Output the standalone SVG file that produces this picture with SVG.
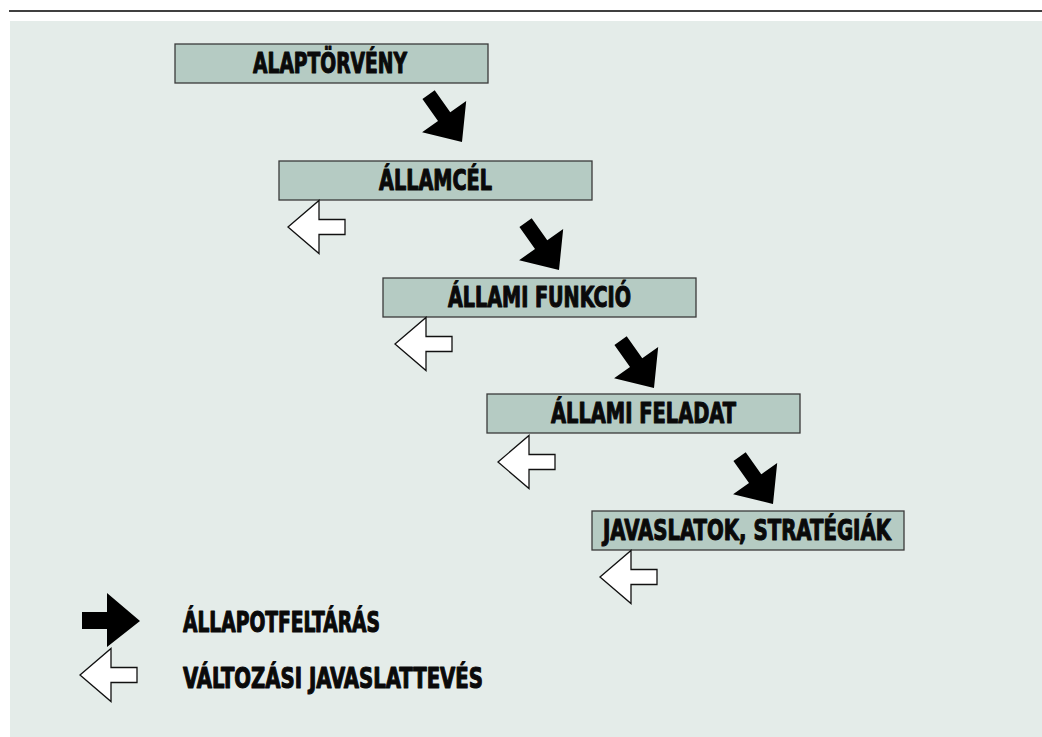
<svg xmlns="http://www.w3.org/2000/svg" xmlns:xlink="http://www.w3.org/1999/xlink" width="1042" height="737" viewBox="0 0 1042 737">
<style>
.box{fill:#b5cbc3;stroke:#3a3a3a;stroke-width:1.3}
.lbl{font-family:"Liberation Sans Narrow","DejaVu Sans Condensed","Liberation Sans",sans-serif;font-weight:bold;font-size:28px;fill:#0a0a0a;stroke:#0a0a0a;stroke-width:1.1;stroke-linejoin:round}
.blk{fill:#000}
.wht{fill:#fff;stroke:#111;stroke-width:1.3;stroke-linejoin:miter}
</style>
<defs>
<polygon id="blkArrow" points="0,0 -31,-27 -31,-7.5 -58,-7.5 -58,7.5 -31,7.5 -31,27"/>
<polygon id="whtArrow" points="0,0 31,-26.5 31,-7.5 57,-7.5 57,7.5 31,7.5 31,26.5"/>
</defs>
<rect x="0" y="0" width="1042" height="737" fill="#ffffff"/>
<line x1="9" y1="11" x2="1042" y2="11" stroke="#000" stroke-width="1.6"/>
<rect x="10" y="21" width="1032" height="716" fill="#e4ece9"/>

<g id="n1"><rect class="box" x="175" y="44" width="313" height="39"/><text class="lbl" x="330" y="73" text-anchor="middle" textLength="154" lengthAdjust="spacingAndGlyphs">ALAPTÖRVÉNY</text></g>
<g id="n2"><rect class="box" x="279" y="161" width="313" height="39"/><text class="lbl" x="435.5" y="190" text-anchor="middle" textLength="113" lengthAdjust="spacingAndGlyphs">ÁLLAMCÉL</text></g>
<g id="n3"><rect class="box" x="383" y="278" width="313" height="39"/><text class="lbl" x="539.5" y="307" text-anchor="middle" textLength="183" lengthAdjust="spacingAndGlyphs">ÁLLAMI FUNKCIÓ</text></g>
<g id="n4"><rect class="box" x="487" y="394" width="313" height="39"/><text class="lbl" x="643.5" y="423" text-anchor="middle" textLength="185" lengthAdjust="spacingAndGlyphs">ÁLLAMI FELADAT</text></g>
<g id="n5"><rect class="box" x="592" y="511" width="312" height="39"/><text class="lbl" x="747" y="540" text-anchor="middle" textLength="288" lengthAdjust="spacingAndGlyphs">JAVASLATOK, STRATÉGIÁK</text></g>

<g id="connectors">
<use xlink:href="#blkArrow" class="blk" transform="translate(462,142) rotate(54.8)"/>
<use xlink:href="#blkArrow" class="blk" transform="translate(559,270) rotate(54.8)"/>
<use xlink:href="#blkArrow" class="blk" transform="translate(654,388) rotate(54.8)"/>
<use xlink:href="#blkArrow" class="blk" transform="translate(773,504) rotate(54.8)"/>
<use xlink:href="#whtArrow" class="wht" transform="translate(288,227)"/>
<use xlink:href="#whtArrow" class="wht" transform="translate(395,344)"/>
<use xlink:href="#whtArrow" class="wht" transform="translate(498,462)"/>
<use xlink:href="#whtArrow" class="wht" transform="translate(600,577)"/>
</g>

<g id="legend">
<polygon class="blk" points="140,621 107,593 107,612 82,612 82,629 107,629 107,647"/>
<use xlink:href="#whtArrow" class="wht" transform="translate(80,675)"/>
<text class="lbl" x="183" y="632" textLength="197" lengthAdjust="spacingAndGlyphs">ÁLLAPOTFELTÁRÁS</text>
<text class="lbl" x="183" y="688" textLength="300" lengthAdjust="spacingAndGlyphs">VÁLTOZÁSI JAVASLATTEVÉS</text>
</g>
</svg>
